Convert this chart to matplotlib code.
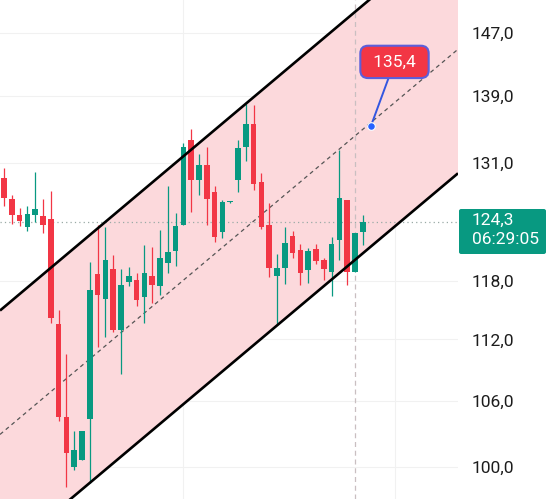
import matplotlib.pyplot as plt
import numpy as np
from matplotlib.patches import FancyBboxPatch
from matplotlib.ticker import FixedLocator, NullLocator, FuncFormatter

plt.rcParams['font.family'] = ['Roboto', 'DejaVu Sans']

# candles (price axis is logarithmic)
opens = [129.24, 126.85, 125.06, 123.73, 125.06, 124.95, 124.62, 113.53, 104.52, 99.98,
         100.60, 104.33, 118.68, 116.07, 119.21, 112.92, 117.84, 118.05, 116.28, 118.47,
         117.42, 119.84, 121.12, 123.96, 133.67, 129.01, 130.74, 127.64, 123.18, 126.50,
         129.01, 132.84, 135.59, 128.78, 123.96, 118.47, 119.31, 122.75, 121.23, 119.10,
         121.34, 120.16, 118.89, 122.32, 126.74, 118.89, 123.18]
highs = [130.39, 127.30, 125.84, 126.06, 129.93, 126.85, 127.76, 114.94, 110.54, 103.23,
         103.23, 119.95, 123.96, 123.73, 120.70, 119.21, 119.42, 118.78, 121.77, 121.56,
         123.40, 128.32, 125.28, 133.31, 135.00, 132.02, 132.84, 128.32, 126.74, 126.62,
         133.67, 138.07, 137.95, 129.82, 126.40, 120.80, 123.73, 123.29, 121.88, 121.45,
         121.88, 120.37, 122.64, 132.49, 126.74, 123.08, 125.06]
lows = [126.06, 124.07, 123.84, 123.29, 124.29, 123.08, 113.63, 104.15, 98.22, 99.72,
        100.60, 98.57, 111.23, 112.22, 112.72, 108.59, 117.42, 115.35, 113.63, 115.66,
        116.48, 118.78, 119.52, 123.96, 125.39, 127.30, 123.96, 122.10, 122.53, 126.45,
        127.64, 131.20, 127.87, 123.50, 118.36, 113.43, 117.63, 120.37, 117.52, 117.73,
        119.73, 118.05, 116.38, 120.16, 117.52, 118.89, 121.77]
closes = [126.97, 125.06, 124.40, 125.17, 125.73, 123.96, 114.13, 104.52, 101.23, 101.50,
          103.23, 117.00, 116.48, 120.16, 112.92, 117.52, 118.47, 115.97, 118.78, 117.52,
          120.37, 121.01, 123.84, 132.84, 129.01, 130.74, 126.85, 122.64, 126.51, 126.60,
          132.73, 135.59, 128.55, 123.73, 119.31, 119.31, 121.99, 120.91, 118.78, 121.12,
          120.05, 119.21, 121.88, 126.97, 118.89, 123.08, 124.30]

# parallel channel, at the left and right edge of the plot
channel_x = [-0.51, 58.2]
channel_upper = [114.9, 161.8]
channel_lower = [92.2, 129.8]

price_ticks = [100, 106, 112, 118, 131, 139, 147]
time_grid = [22.95, 50.1]
last_price = 124.3
countdown = '06:29:05'
target_idx = 47.05
target_price = 135.4
cursor_idx = 45

GREEN = '#089981'
RED = '#f23645'

fig = plt.figure(figsize=(5.51, 4.99), dpi=100)
ax = fig.add_axes([0, 0, 458 / 551, 1])

x = np.arange(len(opens))
o = np.array(opens)
c = np.array(closes)
colors = [GREEN if cc >= oo else RED for oo, cc in zip(o, c)]

# grid
for p in price_ticks:
    ax.axhline(p, color='#f1f1f1', lw=0.8, zorder=0)
for t in time_grid:
    ax.axvline(t, color='#f1f1f1', lw=0.8, zorder=0)

# channel
up = np.array(channel_upper)
lo = np.array(channel_lower)
mid = np.sqrt(up * lo)
ax.fill_between(channel_x, lo, up, color='#fcd9dc', lw=0, zorder=1)
ax.plot(channel_x, up, color='black', lw=1.9, zorder=4, solid_capstyle='butt')
ax.plot(channel_x, lo, color='black', lw=1.9, zorder=4, solid_capstyle='butt')
ax.plot(channel_x, mid, color='#555555', lw=0.9, dashes=(3.2, 2.8), zorder=2)

# cursor + last price line
ax.axvline(cursor_idx, color='#c9bfc1', lw=0.9, dashes=(4, 3), zorder=2)
ax.axhline(last_price, color='#9aaaa6', lw=0.9, dashes=(1, 2.5), zorder=2)

# candles
ax.vlines(x, lows, highs, colors=colors, lw=0.9, zorder=3)
ax.bar(x, np.abs(c - o), bottom=np.minimum(o, c), width=0.7, color=colors, lw=0, zorder=3)

# target callout
ax.annotate(' ' + f'{target_price:.1f}'.replace('.', ',') + ' ',
            xy=(target_idx, target_price), xytext=(50.06, 143.3),
            ha='center', va='center', color='white', fontsize=12.5,
            bbox=dict(boxstyle='round,pad=0.5,rounding_size=0.45', fc=RED, ec='#5b5fdb', lw=1.5),
            arrowprops=dict(arrowstyle='-', color='#3356e0', lw=1.4, shrinkA=0, shrinkB=0),
            zorder=6)
ax.plot(target_idx, target_price, 'o', color='#2962ff', ms=5.5, mec='white', mew=0.8, zorder=7)

ax.set_yscale('log')
ax.set_xlim(channel_x)
ax.set_ylim(97.19, 151.4)
ax.yaxis.set_major_locator(FixedLocator(price_ticks))
ax.yaxis.set_minor_locator(NullLocator())
ax.yaxis.set_major_formatter(FuncFormatter(lambda v, pos: f'{v:.1f}'.replace('.', ',')))
ax.tick_params(axis='y', left=False, labelleft=False, right=True, labelright=True,
               length=0, pad=10, labelsize=12.5, labelcolor='#1c1c1c')
ax.set_xticks([])
for s in ax.spines.values():
    s.set_visible(False)

# last price label on the axis
fig.add_artist(FancyBboxPatch((459 / 551, 1 - 254 / 499), 87 / 551, 45 / 499,
                              boxstyle='round,pad=0,rounding_size=0.004',
                              fc=GREEN, ec='none', transform=fig.transFigure))
fig.text(472 / 551, 1 - 220 / 499, f'{last_price:.1f}'.replace('.', ','),
         color='white', fontsize=12.5, va='center', ha='left')
fig.text(472 / 551, 1 - 240 / 499, countdown,
         color='white', fontsize=12.5, va='center', ha='left')

fig.savefig('out.png', dpi=100)
